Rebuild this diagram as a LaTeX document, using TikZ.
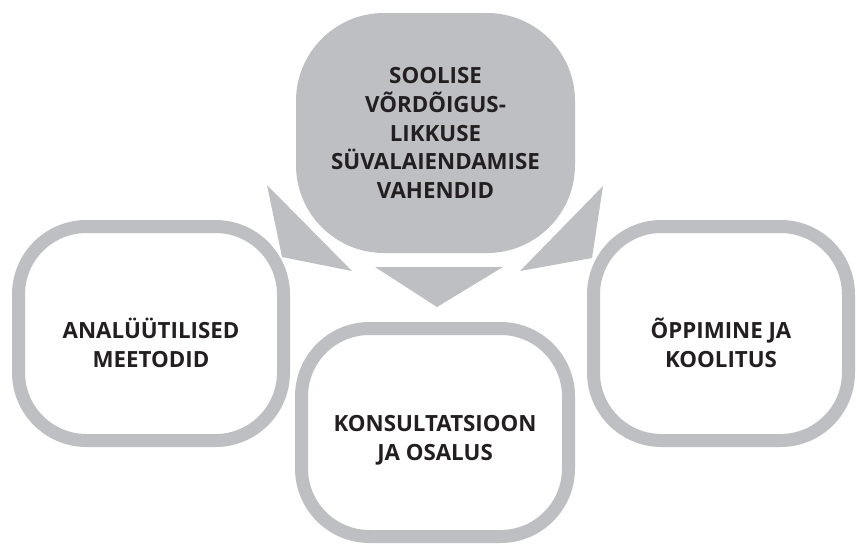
\documentclass[tikz,border=0pt]{standalone}
\usepackage{fontspec}
\setmainfont{Open Sans}
\usetikzlibrary{positioning}
\definecolor{boxgray}{RGB}{190,191,195}
\definecolor{ink}{RGB}{35,31,32}

\begin{document}
\begin{tikzpicture}[x=1pt,y=-1pt,
                    every node/.style={font=\bfseries\fontsize{22.3}{28.8}\selectfont,
                                       text=ink,align=center,inner sep=0pt}]
  \tikzstyle{topic}=[draw=boxgray,line width=13pt,rounded corners=68pt,fill=white]
  \tikzstyle{tools}=[fill=boxgray,rounded corners=88pt]
  \tikzstyle{pointer}=[fill=boxgray]

  \useasboundingbox (0,0) rectangle (857,544);

  \node[tools,minimum width=279pt,minimum height=240pt] (mainstream) at (435.5,133)
       {SOOLISE\\VÕRDÕIGUS-\\LIKKUSE\\SÜVALAIENDAMISE\\VAHENDID};
  \node[topic,minimum width=265pt,minimum height=214pt,
        label={[yshift=-9pt]center:ANALÜÜTILISED\\MEETODID}] (analysis) at (151,333.5) {};
  \node[topic,minimum width=255pt,minimum height=214pt,
        label={[yshift=-9pt]center:ÕPPIMINE JA\\KOOLITUS}] (training) at (721,333.5) {};
  \node[topic,minimum width=267pt,minimum height=208pt,
        label={[yshift=-8pt]center:KONSULTATSIOON\\JA OSALUS}] (consult) at (435,432.5) {};

  % pointers from the tools box
  \fill[pointer] (267,185) -- (282,257) -- (352,271) -- cycle;
  \fill[pointer] (603,186) -- (592,258) -- (520,271) -- cycle;
  \fill[pointer] (375,267) -- (503,267) -- (437,307) -- cycle;
\end{tikzpicture}
\end{document}
